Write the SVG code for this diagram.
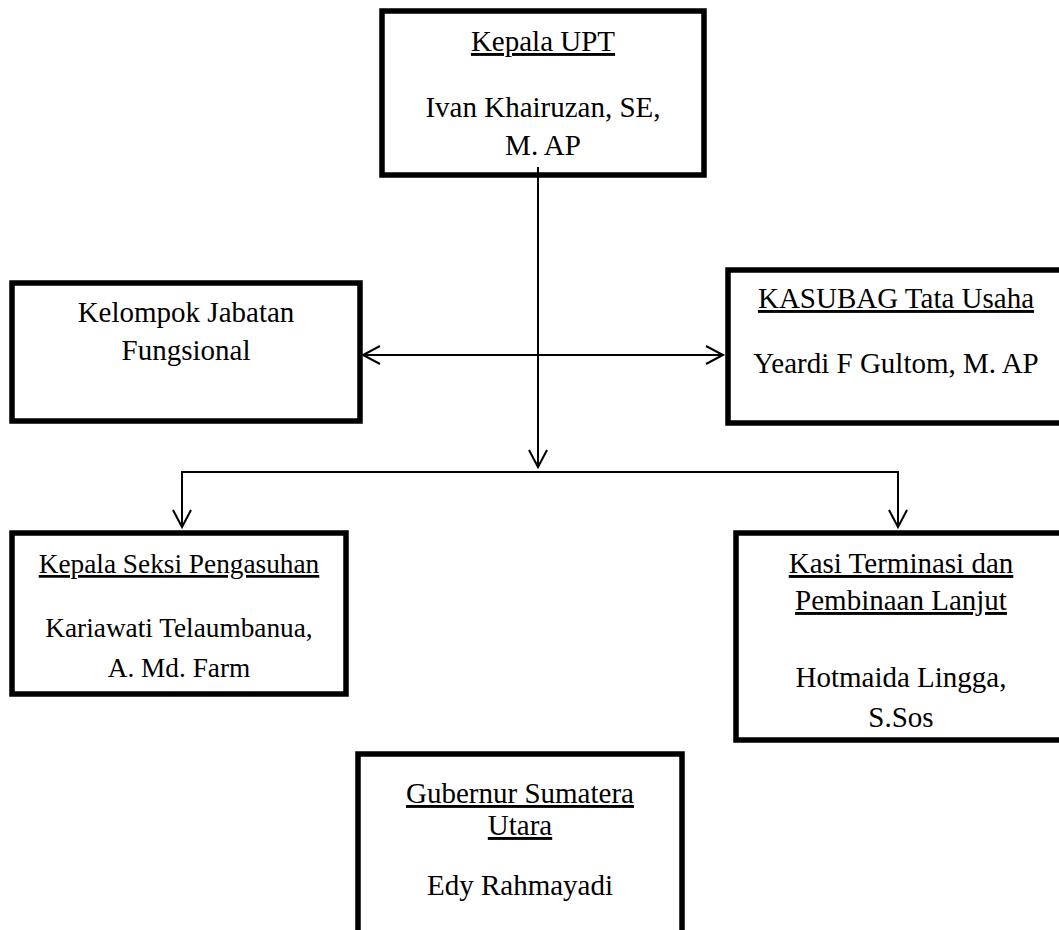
<svg xmlns="http://www.w3.org/2000/svg" width="1059" height="930" viewBox="0 0 1059 930">
<style>
.box{fill:#fff;stroke:#000;stroke-width:5.5}
.t{font-family:"Liberation Serif","Times New Roman",serif;font-size:29px;fill:#000;text-anchor:middle}
.s{font-size:27.3px}
.u{text-decoration:underline}
.c{fill:none;stroke:#000;stroke-width:2}
</style>
<defs>
<marker id="ah" markerUnits="userSpaceOnUse" markerWidth="22" markerHeight="24" viewBox="-19 -12 22 24" refX="0" refY="0" orient="auto-start-reverse">
<path d="M-17,-9 L0,0 L-17,9" fill="none" stroke="#000" stroke-width="2"/>
</marker>
</defs>
<rect width="1059" height="930" fill="#fff"/>
<g id="kepala-upt">
<rect class="box" x="382" y="11" width="322" height="164"/>
<text class="t u" x="543" y="51">Kepala UPT</text>
<text class="t" x="543" y="117">Ivan Khairuzan, SE,</text>
<text class="t" x="543" y="155">M. AP</text>
</g>
<g id="kelompok-jabatan">
<rect class="box" x="12" y="283" width="348" height="138"/>
<text class="t" x="186" y="322">Kelompok Jabatan</text>
<text class="t" x="186" y="360">Fungsional</text>
</g>
<g id="kasubag">
<rect class="box" x="728" y="270" width="336" height="153"/>
<text class="t u" x="896" y="308">KASUBAG Tata Usaha</text>
<text class="t" x="896" y="373">Yeardi F Gultom, M. AP</text>
</g>
<g id="kepala-seksi">
<rect class="box" x="12" y="533" width="334" height="161"/>
<text class="t s u" x="179" y="573">Kepala Seksi Pengasuhan</text>
<text class="t s" x="179" y="637">Kariawati Telaumbanua,</text>
<text class="t s" x="179" y="677">A. Md. Farm</text>
</g>
<g id="kasi-terminasi">
<rect class="box" x="736" y="533" width="331" height="207"/>
<text class="t u" x="901" y="573">Kasi Terminasi dan</text>
<text class="t u" x="901" y="610">Pembinaan Lanjut</text>
<text class="t" x="901" y="687">Hotmaida Lingga,</text>
<text class="t" x="901" y="727">S.Sos</text>
</g>
<g id="gubernur">
<rect class="box" x="358" y="754" width="324" height="200"/>
<text class="t u" x="520" y="803">Gubernur Sumatera</text>
<text class="t u" x="520" y="835">Utara</text>
<text class="t" x="520" y="895">Edy Rahmayadi</text>
</g>
<g id="connectors">
<path class="c" d="M538,167 L538,467" marker-end="url(#ah)"/>
<path class="c" d="M363,355 L723,355" marker-start="url(#ah)" marker-end="url(#ah)"/>
<path class="c" d="M182,527 L182,472 L898,472 L898,527" marker-start="url(#ah)" marker-end="url(#ah)"/>
</g>
</svg>
